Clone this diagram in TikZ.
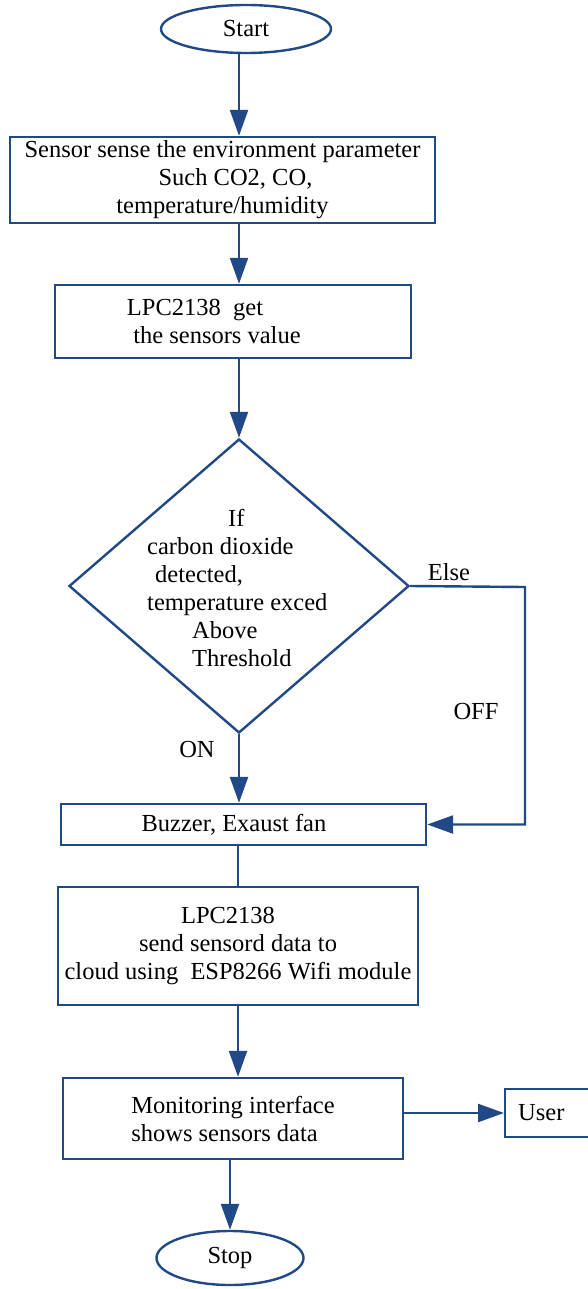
\documentclass[tikz,border=0pt]{standalone}
\usepackage{fontspec}
\setmainfont{LiberationSerif}[Extension=.ttf, UprightFont=*-Regular, BoldFont=*-Bold]
\usetikzlibrary{shapes.geometric,arrows.meta}
\definecolor{flowblue}{RGB}{33,72,135}
\begin{document}
\begin{tikzpicture}[x=1pt,y=-1pt]
        \tikzstyle{blk} = [draw, flowblue, line width=2.4pt, >={Triangle[length=26pt, width=18pt]}]
        \tikzstyle{lbl} = [inner sep=0pt, font=\fontsize{24.5}{28}\selectfont]
        \tikzstyle{box} = [lbl, draw=flowblue, line width=2.4pt, rectangle, align=center]
        \tikzstyle{term} = [box, ellipse]

        \useasboundingbox (0,0) rectangle (588,1289);

        \node[term, minimum width=170pt, minimum height=48pt] (start) at (246, 29) {Start};
        \node[box, minimum width=425pt, minimum height=86pt] (sensor) at (222.5, 180) {Sensor sense the environment parameter\\ \hspace*{26pt}Such CO2, CO,\\ temperature/humidity};
        \node[box, minimum width=356pt, minimum height=73pt] (lpc) at (233, 321.5) {LPC2138~~get\hspace*{76pt}\\ the sensors value\hspace*{32pt}};
        \node[draw=flowblue, line width=2.4pt, diamond, minimum width=340pt, minimum height=294pt, inner sep=0pt] (decision) at (239, 586) {};
        \node[lbl, anchor=west, align=left] (condition) at (147, 587.5) {\hspace*{81pt}If\\ carbon dioxide\\ \hspace*{8pt}detected,\\ temperature exced\\ \hspace*{45pt}Above\\ \hspace*{45pt}Threshold};
        \node[lbl] (else) at (449, 572) {Else};
        \node[lbl] (off) at (476, 712) {OFF};
        \node[lbl] (on) at (197, 750) {ON};
        \node[box, minimum width=365pt, minimum height=41pt] (buzzer) at (243.5, 824.5) {Buzzer, Exaust fan\hspace*{19pt}};
        \node[box, minimum width=360pt, minimum height=118pt] (upload) at (238, 946) {LPC2138\hspace*{20pt}\\ send sensord data to\hspace*{30pt}\\ cloud using~~ESP8266 Wifi module};
        \node[box, align=left, minimum width=340pt, minimum height=81pt] (monitor) at (233, 1118.5) {Monitoring interface\\ shows sensors data};
        \node[box, anchor=west, align=left, text width=84pt, inner xsep=13pt, minimum height=48pt] (user) at (504, 1113) {User};
        \node[term, minimum width=147pt, minimum height=54pt] (stop) at (230, 1258) {Stop};
        \coordinate (else corner) at (525, 587);

        \path[blk, ->] (start.south -| decision) to (sensor.north -| decision);
        \path[blk, ->] (sensor.south -| decision) to (lpc.north -| decision);
        \path[blk, ->] (lpc.south -| decision) to (decision.north);
        \path[blk, ->] (decision.south) to (buzzer.north -| decision);
        \path[blk] (buzzer.south -| upload) to (upload.north);
        \path[blk, ->] (upload.south) to (upload.south |- monitor.north);
        \path[blk, ->] (monitor.south -| stop) to (stop.north);
        \path[blk, ->] (monitor.east |- user) to (user.west);
        \path[blk, ->] (decision.east) -- (else corner) |- (buzzer.east);
    \end{tikzpicture}
\end{document}
